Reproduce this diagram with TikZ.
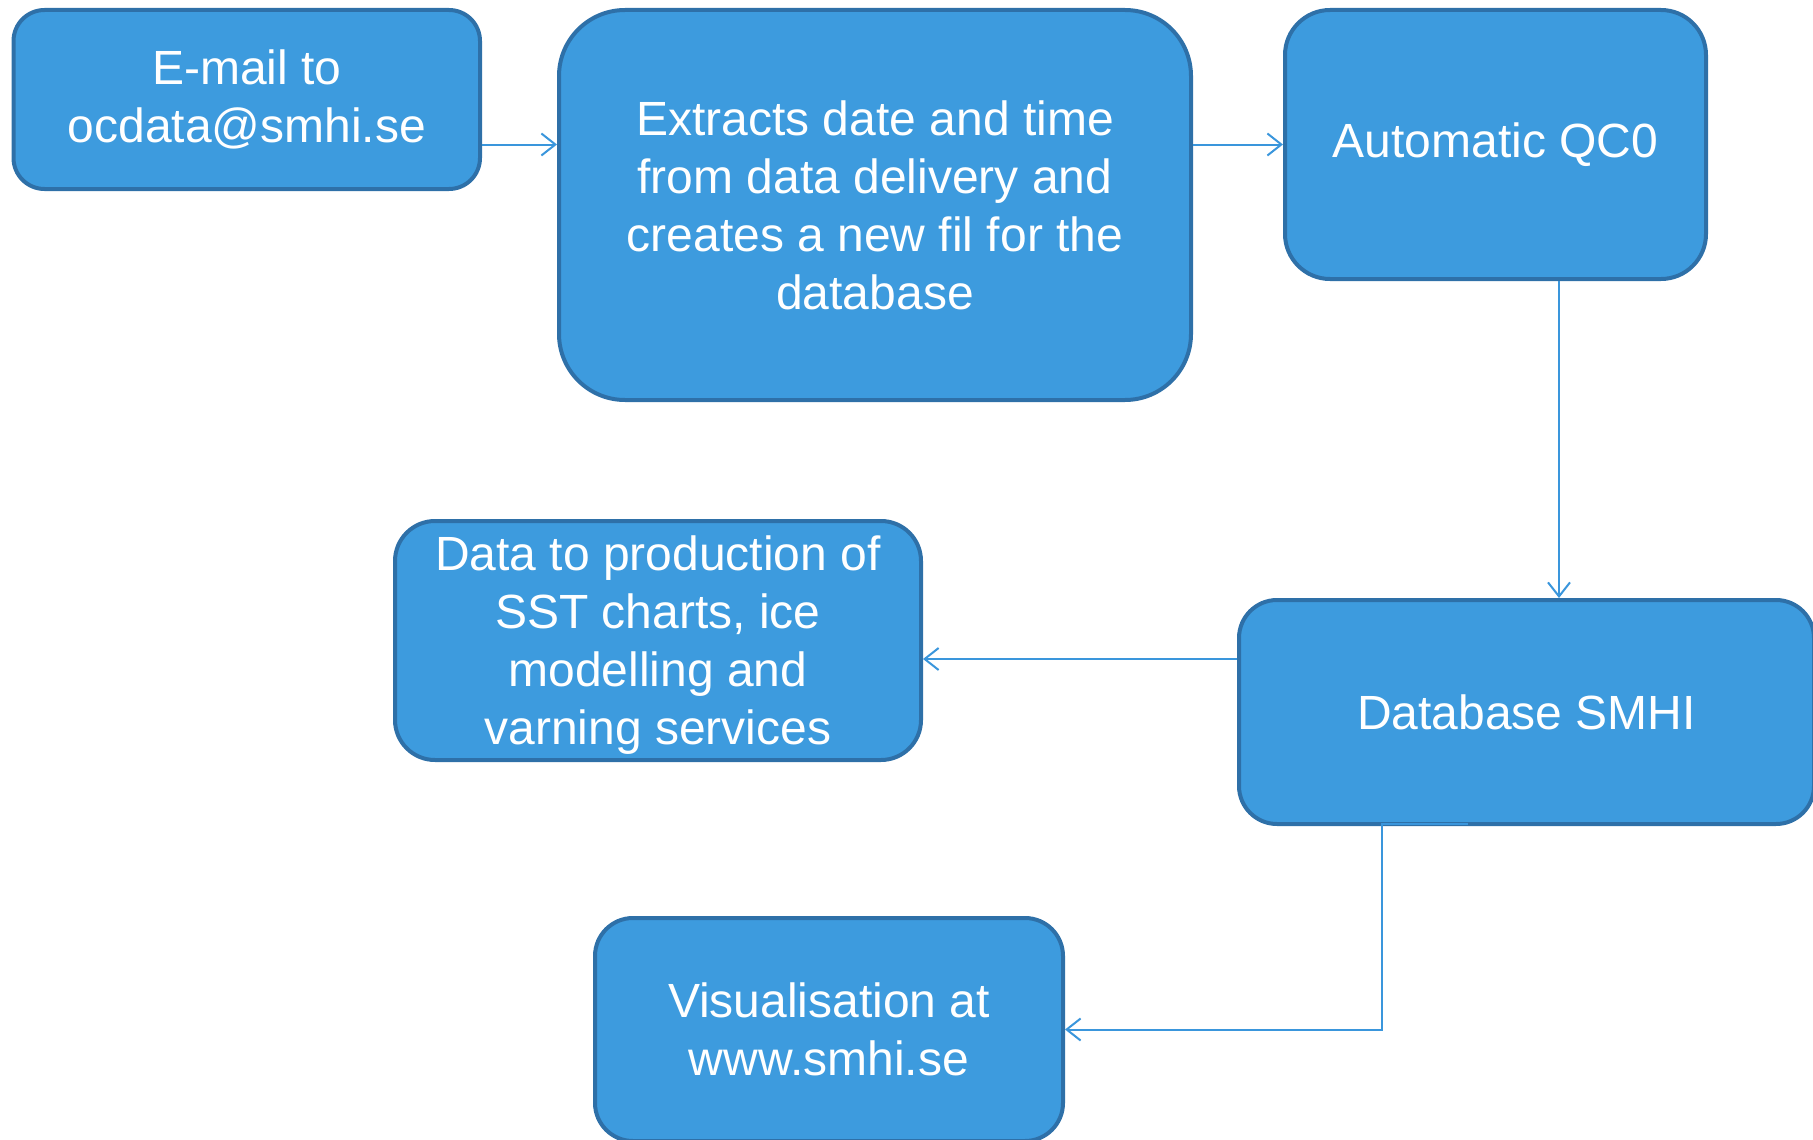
\documentclass[tikz,border=0pt]{standalone}
\usepackage{fontspec}
\setmainfont{Liberation Sans}
\usetikzlibrary{arrows.meta}
\definecolor{boxfill}{RGB}{61,155,222}
\definecolor{boxline}{RGB}{46,112,168}
\definecolor{conn}{RGB}{58,150,220}
\begin{document}
\begin{tikzpicture}[x=1pt,y=-1pt,
  flowbox/.style={draw=boxline,fill=boxfill,line width=4pt,text=white,align=center,inner sep=0pt,
    font=\fontsize{48}{58}\selectfont},
  arr/.style={draw=conn,line width=2pt,-{Straight Barb[length=14pt,width=22pt,line width=2pt]}}]
\useasboundingbox (0,0) rectangle (1813,1140);
\node[flowbox,minimum width=466.5pt,minimum height=179pt,rounded corners=31pt] (b1) at (246.75,99.5) {E-mail to\\ocdata@smhi.se};
\node[flowbox,minimum width=632pt,minimum height=390pt,rounded corners=66pt] (b2) at (875,205) {Extracts date and time\\from data delivery and\\creates a new fil for the\\database};
\node[flowbox,minimum width=421pt,minimum height=269pt,rounded corners=45pt] (b3) at (1495.5,144.5) {Automatic QC0};
\node[flowbox,minimum width=575pt,minimum height=224pt,rounded corners=38pt] (b4) at (1526.5,712) {Database SMHI};
\node[flowbox,minimum width=526pt,minimum height=239pt,rounded corners=40pt] (b5) at (658,640.5) {Data to production of\\SST charts, ice\\modelling and\\\smash{varning services}};
\node[flowbox,minimum width=468pt,minimum height=223pt,rounded corners=38pt] (b6) at (829,1029.5) {Visualisation at\\www.smhi.se};
\coordinate (vx) at (1559,0);
\coordinate (hy) at (0,659);
\coordinate (s5) at (1468,824);
\coordinate (k5) at (1382,824);
\draw[arr] (b1.east |- b3.west) -- (b2.west |- b3.west);
\draw[arr] (b2.east |- b3.west) -- (b3.west);
\draw[arr] (b3.south -| vx) -- (b4.north -| vx);
\draw[arr] (b4.west |- hy) -- (b5.east |- hy);
\draw[arr] (s5) -- (k5) -- (k5 |- b6.east) -- (b6.east);
\end{tikzpicture}
\end{document}
